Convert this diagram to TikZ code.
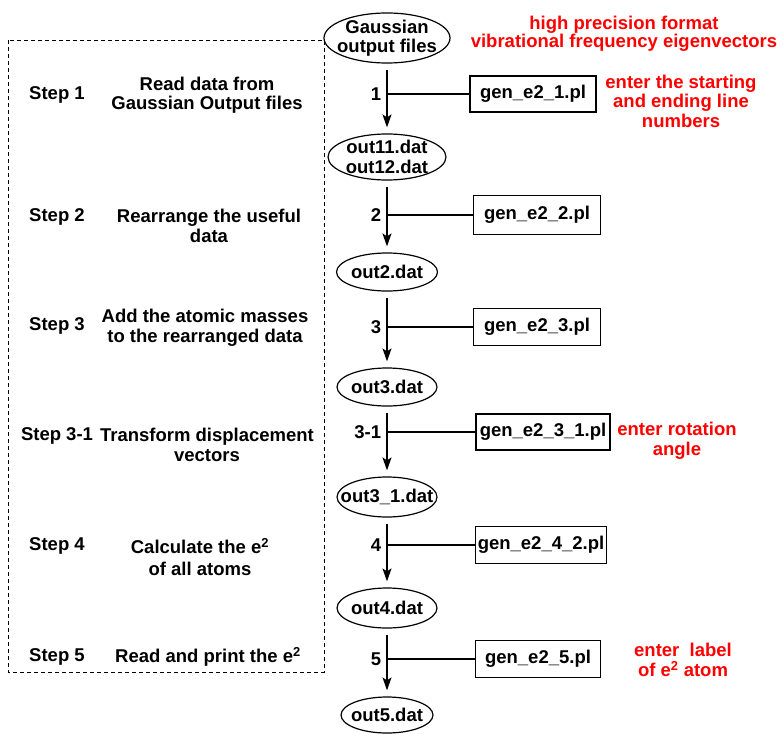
\documentclass[tikz,border=0pt]{standalone}
\usepackage{fontspec}
\setmainfont{Liberation Sans}
\usetikzlibrary{shapes,positioning,arrows.meta}

\begin{document}
\begin{tikzpicture}[x=1pt, y=1pt, font=\fontsize{18.5}{19.5}\selectfont\bfseries,
        datafile/.style={draw, ellipse, line width=1.2pt, inner sep=-20pt, align=center},
        prog/.style={draw, rectangle, line width=1.2pt, inner xsep=2pt},
        flow/.style={-{Stealth[length=13pt,width=9pt,inset=3pt]}, line width=1.4pt, shorten <=6pt, shorten >=6pt},
        link/.style={line width=1.2pt},
        note/.style={red, align=center}]
        \useasboundingbox (0,0) rectangle (783,-733);
        \draw[line width=0.9pt, dash pattern=on 4pt off 3pt] (8,-40) rectangle (324,-672);
        \foreach \i/\y/\w/\h/\name in {0/38/126/50/{Gaussian\\output files},1/157/118/46/{out11.dat\\out12.dat},2/272/101/38/out2.dat,3/387/100/38/out3.dat,31/497/100/40/out3\_1.dat,4/608/100/40/out4.dat,5/715/92/36/out5.dat}{\node[datafile, minimum width=\w, minimum height=\h] (f\i) at (387,-\y) {\name};}
        \foreach \i/\prev/\x/\y/\w/\h/\name/\num in {1/0/533/94/126/36/gen\_e2\_1.pl/1,2/1/537/215/127/39/gen\_e2\_2.pl/2,3/2/537/327/127/37/gen\_e2\_3.pl/3,31/3/543/432/134/36/gen\_e2\_3\_1.pl/3-1,4/31/541/545/130/37/gen\_e2\_4\_2.pl/4,5/4/538/659/125/37/gen\_e2\_5.pl/5}{
            \node[prog, minimum width=\w, minimum height=\h] (p\i) at (\x,-\y) {\name};
            \draw[flow] (f\prev.south) -- (f\i.north);
            \draw[link] (p\i.west) -- (p\i.west -| f\i.north) node[left=2pt] (n\i) {\num};}
        \foreach \i/\y/\lbl in {1/95/Step 1,2/217/Step 2,3/326/Step 3,31/436/Step 3-1,4/546/Step 4,5/657/Step 5}{\node (s\i) at (57,-\y) {\lbl};}
        \node[align=center] (d1) at (207,-95) {Read data from\\Gaussian Output files};
        \node[align=center] (d2) at (209,-226) {Rearrange the useful\\data};
        \node[align=center] (d3) at (205,-328) {Add the atomic masses\\to the rearranged data};
        \node[align=center] (d31) at (207,-445) {Transform displacement\\vectors};
        \node[align=center] (d4) at (200,-557) {Calculate the e\textsuperscript{2}\\[2pt]of all atoms};
        \node (d5) at (208,-657) {Read and print the e\textsuperscript{2}};
        \node[note] (r0) at (624,-34) {high precision format\\[-1pt]vibrational frequency eigenvectors};
        \node[note] (r1) at (681,-101) {enter the starting\\and ending line\\numbers};
        \node[note] (r31) at (677,-441) {enter rotation\\angle};
        \node[note] (r5) at (683,-660) {enter\ \ label\\of e\textsuperscript{2} atom};
\end{tikzpicture}
\end{document}
